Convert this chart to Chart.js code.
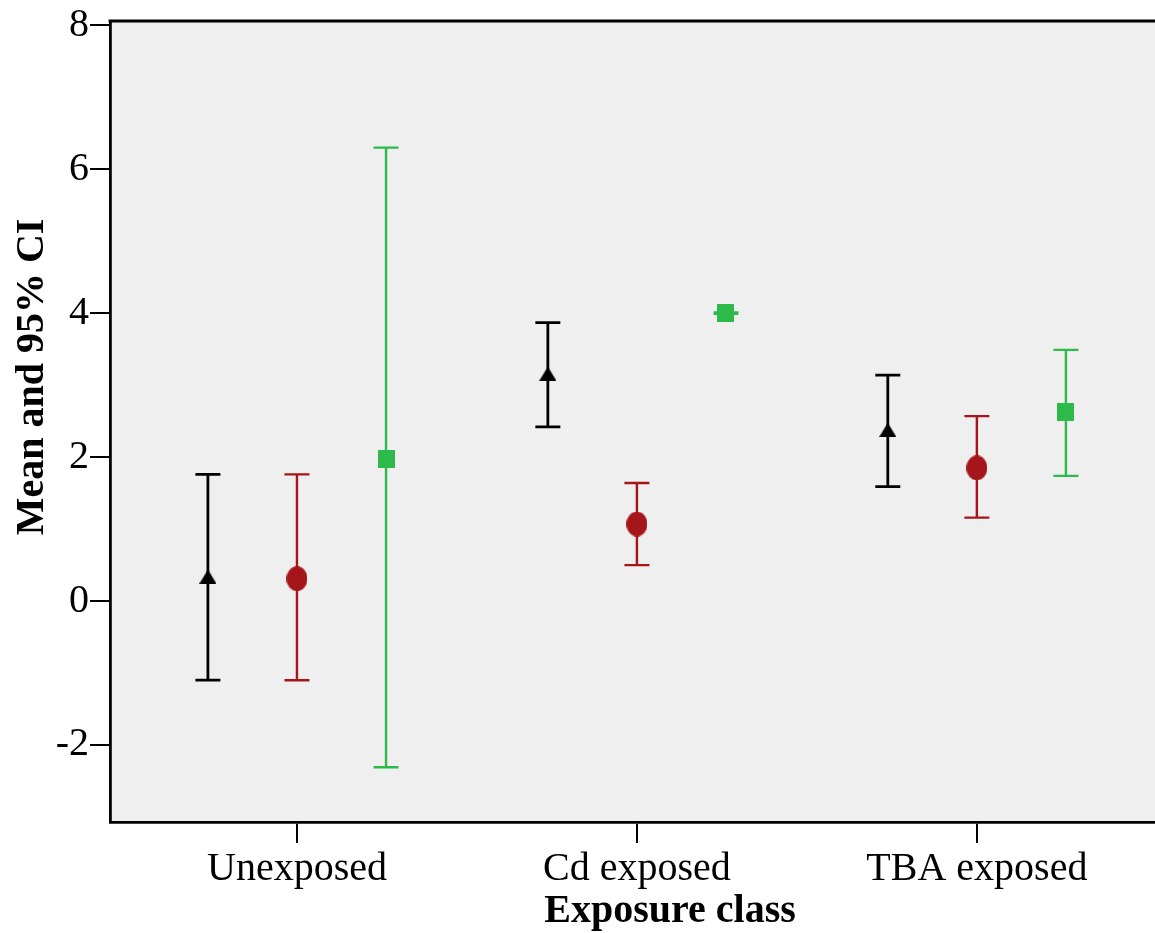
<!DOCTYPE html>
<html>
<head>
<meta charset="utf-8">
<script src="https://cdn.jsdelivr.net/npm/chart.js@4/dist/chart.umd.min.js"></script>
<style>
  html, body { margin: 0; padding: 0; background: #fff; }
  #wrap { width: 1155px; height: 933px; position: relative; }
</style>
</head>
<body>
<div id="wrap"><canvas id="chart" width="1155" height="933"></canvas></div>
<script>
// categories and y ticks
const categories = ['Unexposed', 'Cd exposed', 'TBA exposed'];
const yTicks = [-2, 0, 2, 4, 6, 8];

// triangle series (black)
const triMean = [0.34, 3.16, 2.38];
const triLow = [-1.10, 2.42, 1.59];
const triHigh = [1.76, 3.87, 3.14];

// circle series (dark red)
const circMean = [0.31, 1.07, 1.85];
const circLow = [-1.10, 0.50, 1.16];
const circHigh = [1.76, 1.64, 2.57];

// square series (green)
const sqMean = [1.98, 4.00, 2.63];
const sqLow = [-2.31, 3.99, 1.74];
const sqHigh = [6.30, 4.01, 3.49];

const BLACK = '#000000';
const RED = '#a5161b';
const GREEN = '#2dba4a';
const dodge = 0.262;
const serif = "'Liberation Serif', 'Times New Roman', serif";

function makeMarker(shape, color, w, h) {
    const c = document.createElement('canvas');
    c.width = w; c.height = h;
    const ctx = c.getContext('2d');
    ctx.fillStyle = color;
    ctx.beginPath();
    if (shape === 'triangle') {
        ctx.moveTo(w / 2, 0);
        ctx.lineTo(w, h);
        ctx.lineTo(0, h);
        ctx.closePath();
    } else if (shape === 'ellipse') {
        ctx.ellipse(w / 2, h / 2, w / 2, h / 2, 0, 0, Math.PI * 2);
    } else {
        ctx.rect(0, 0, w, h);
    }
    ctx.fill();
    return c;
}

function series(label, means, lows, highs, offset, color, marker) {
    return {
        label,
        data: means.map((m, i) => ({ x: i + 1 + offset, y: m, lo: lows[i], hi: highs[i] })),
        pointStyle: marker,
        pointRadius: 10,
        borderColor: color,
        backgroundColor: color,
        showLine: false,
        errColor: color
    };
}

const noPad = (s) => { s.paddingLeft = 0; s.paddingRight = 0; s.paddingTop = 0; s.paddingBottom = 0; };

const errorBars = {
    id: 'errorBars',
    beforeDraw(chart) {
        const { ctx, chartArea: a } = chart;
        ctx.save();
        ctx.fillStyle = '#efefef';
        ctx.fillRect(a.left, a.top, a.right - a.left, a.bottom - a.top);
        ctx.restore();
    },
    beforeDatasetsDraw(chart) {
        const { ctx, scales } = chart;
        ctx.save();
        chart.data.datasets.forEach((ds) => {
            ctx.strokeStyle = ds.errColor;
            ctx.lineWidth = ds.errColor === BLACK ? 2.8 : 2.4;
            ds.data.forEach((p) => {
                const x = scales.x.getPixelForValue(p.x);
                const yLo = scales.y.getPixelForValue(p.lo);
                const yHi = scales.y.getPixelForValue(p.hi);
                ctx.beginPath();
                ctx.moveTo(x, yLo); ctx.lineTo(x, yHi);
                ctx.moveTo(x - 12.5, yLo); ctx.lineTo(x + 12.5, yLo);
                ctx.moveTo(x - 12.5, yHi); ctx.lineTo(x + 12.5, yHi);
                ctx.stroke();
            });
        });
        ctx.restore();
    },
    afterDraw(chart) {
        const { ctx, chartArea: a } = chart;
        ctx.save();
        // top frame line
        ctx.strokeStyle = BLACK;
        ctx.lineWidth = 2.8;
        ctx.beginPath();
        ctx.moveTo(a.left - 1.4, a.top);
        ctx.lineTo(a.right, a.top);
        ctx.stroke();
        // axis titles
        ctx.fillStyle = BLACK;
        ctx.font = 'bold 40px ' + serif;
        ctx.textAlign = 'center';
        ctx.textBaseline = 'alphabetic';
        ctx.fillText('Exposure class', 670, 922);
        ctx.translate(43, 377);
        ctx.rotate(-Math.PI / 2);
        ctx.fillText('Mean and 95% CI', 0, 0);
        ctx.restore();
    }
};

new Chart(document.getElementById('chart'), {
    type: 'scatter',
    data: {
        datasets: [
            series('Triangle', triMean, triLow, triHigh, -dodge, BLACK, makeMarker('triangle', BLACK, 17, 14)),
            series('Circle', circMean, circLow, circHigh, 0, RED, makeMarker('ellipse', RED, 21, 25)),
            series('Square', sqMean, sqLow, sqHigh, dodge, GREEN, makeMarker('rect', GREEN, 17, 18))
        ]
    },
    options: {
        responsive: false,
        animation: false,
        layout: { autoPadding: false, padding: { top: 21, right: 0, left: 0, bottom: 0 } },
        plugins: { legend: { display: false }, tooltip: { enabled: false } },
        scales: {
            x: {
                type: 'linear',
                min: 0.45,
                max: 3.524,
                afterBuildTicks: (s) => { s.ticks = categories.map((_, i) => ({ value: i + 1 })); },
                afterFit: (s) => { s.height = 111; noPad(s); },
                ticks: {
                    callback: (v) => categories[Math.round(v) - 1] || '',
                    color: BLACK,
                    font: { family: serif, size: 40 },
                    padding: 2,
                    maxRotation: 0,
                    autoSkip: false
                },
                grid: { drawOnChartArea: false, color: BLACK, lineWidth: 2, tickLength: 21 },
                border: { color: BLACK, width: 2.8 }
            },
            y: {
                min: -3.07,
                max: 8.06,
                afterBuildTicks: (s) => { s.ticks = yTicks.map(v => ({ value: v })); },
                afterFit: (s) => { s.width = 110; noPad(s); },
                ticks: {
                    color: BLACK,
                    font: { family: serif, size: 40 },
                    padding: 1
                },
                grid: { drawOnChartArea: false, color: BLACK, lineWidth: 2, tickLength: 20 },
                border: { color: BLACK, width: 2.8 }
            }
        }
    },
    plugins: [errorBars]
});
</script>
</body>
</html>
